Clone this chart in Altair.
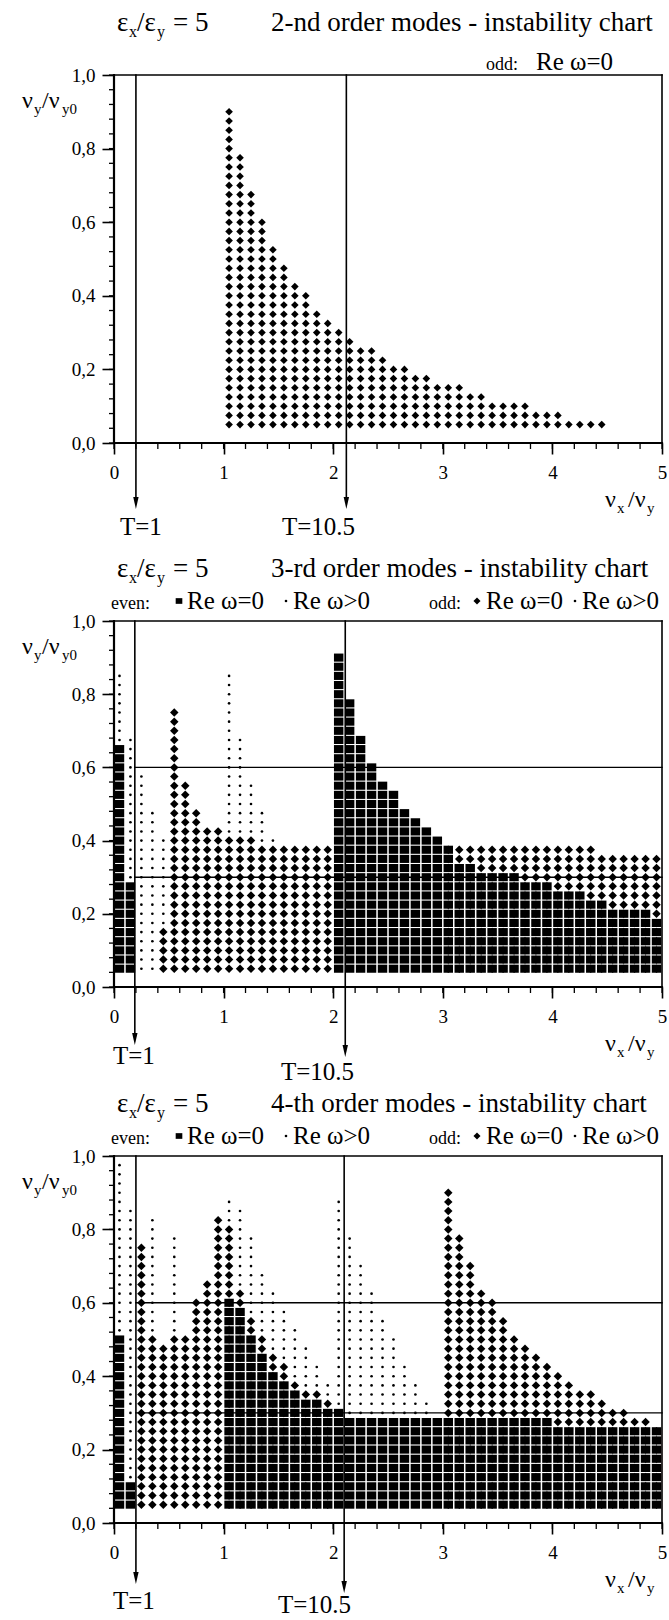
import altair as alt
import pandas as pd

FONT = "Liberation Serif"
INK = "#000000"

# ---------------- values ----------------
DY = 0.025          # step of the computed points along nu_y/nu_y0
LOW = 0.05          # lowest computed nu_y/nu_y0

titles = ["2-nd order modes - instability chart",
          "3-rd order modes - instability chart",
          "4-th order modes - instability chart"]
tick_x = [0, 1, 2, 3, 4, 5]
tick_y = [0.0, 0.2, 0.4, 0.6, 0.8, 1.0]
t_names = ["T=1", "T=10.5"]
t_pos = [[0.20, 2.12], [0.19, 2.11], [0.20, 2.10]]
h_lines = [[], [0.6, 0.3], [0.6, 0.3]]

# panel 1 : odd, Re w = 0 (diamonds) - column x and top of column
p1_dia_x = [1.05, 1.15, 1.25, 1.35, 1.45, 1.55, 1.65, 1.75, 1.85, 1.95, 2.05, 2.15,
            2.25, 2.35, 2.45, 2.55, 2.65, 2.75, 2.85, 2.95, 3.05, 3.15, 3.25, 3.35,
            3.45, 3.55, 3.65, 3.75, 3.85, 3.95, 4.05, 4.15, 4.25, 4.35, 4.45]
p1_dia_top = [0.9, 0.775, 0.675, 0.6, 0.525, 0.475, 0.425, 0.4, 0.35, 0.325, 0.3, 0.275,
              0.25, 0.25, 0.225, 0.2, 0.2, 0.175, 0.175, 0.15, 0.15, 0.15, 0.125, 0.125,
              0.1, 0.1, 0.1, 0.1, 0.075, 0.075, 0.075, 0.05, 0.05, 0.05, 0.05]

# panel 2 : even Re w = 0 (squares)
p2_sq_x = [0.05, 0.15, 2.05, 2.15, 2.25, 2.35, 2.45, 2.55, 2.65, 2.75, 2.85, 2.95,
           3.05, 3.15, 3.25, 3.35, 3.45, 3.55, 3.65, 3.75, 3.85, 3.95, 4.05, 4.15,
           4.25, 4.35, 4.45, 4.55, 4.65, 4.75, 4.85, 4.95]
p2_sq_top = [0.65, 0.275, 0.9, 0.775, 0.675, 0.6, 0.55, 0.525, 0.475, 0.45, 0.425, 0.4,
             0.375, 0.325, 0.325, 0.3, 0.3, 0.3, 0.3, 0.275, 0.275, 0.275, 0.25, 0.25,
             0.25, 0.225, 0.225, 0.2, 0.2, 0.2, 0.2, 0.175]
# panel 2 : odd Re w = 0 (diamonds)
p2_dia_x = [0.45, 0.55, 0.65, 0.75, 0.85, 0.95, 1.05, 1.15, 1.25, 1.35, 1.45, 1.55,
            1.65, 1.75, 1.85, 1.95, 3.05, 3.15, 3.25, 3.35, 3.45, 3.55, 3.65, 3.75,
            3.85, 3.95, 4.05, 4.15, 4.25, 4.35, 4.45, 4.55, 4.65, 4.75, 4.85, 4.95]
p2_dia_top = [0.15, 0.75, 0.55, 0.475, 0.425, 0.425, 0.4, 0.4, 0.4, 0.375, 0.375, 0.375,
              0.375, 0.375, 0.375, 0.375, 0.375, 0.375, 0.375, 0.375, 0.375, 0.375, 0.375, 0.375,
              0.375, 0.375, 0.375, 0.375, 0.375, 0.375, 0.35, 0.35, 0.35, 0.35, 0.35, 0.35]
# panel 2 : Re w > 0 (small dots) - column x, lowest and highest value
p2_dot_x = [0.05, 0.15, 0.25, 0.35, 0.45, 1.05, 1.15, 1.25, 1.35, 1.45]
p2_dot_lo = [0.675, 0.3, 0.05, 0.05, 0.175, 0.425, 0.425, 0.425, 0.4, 0.4]
p2_dot_hi = [0.85, 0.675, 0.575, 0.475, 0.4, 0.85, 0.675, 0.55, 0.475, 0.4]

# panel 3 : even Re w = 0 (squares)
p3_sq_x = [0.05, 0.15, 1.05, 1.15, 1.25, 1.35, 1.45, 1.55, 1.65, 1.75, 1.85, 1.95,
           2.05, 2.15, 2.25, 2.35, 2.45, 2.55, 2.65, 2.75, 2.85, 2.95, 3.05, 3.15,
           3.25, 3.35, 3.45, 3.55, 3.65, 3.75, 3.85, 3.95, 4.05, 4.15, 4.25, 4.35,
           4.45, 4.55, 4.65, 4.75, 4.85, 4.95]
p3_sq_top = [0.5, 0.1, 0.6, 0.575, 0.5, 0.45, 0.4, 0.375, 0.35, 0.325, 0.325, 0.3,
             0.3, 0.275, 0.275, 0.275, 0.275, 0.275, 0.275, 0.275, 0.275, 0.275, 0.275, 0.275,
             0.275, 0.275, 0.275, 0.275, 0.275, 0.275, 0.275, 0.275, 0.25, 0.25, 0.25, 0.25,
             0.25, 0.25, 0.25, 0.25, 0.25, 0.25]
# panel 3 : odd Re w = 0 (diamonds)
p3_dia_x = [0.25, 0.35, 0.45, 0.55, 0.65, 0.75, 0.85, 0.95, 1.05, 1.15, 1.25, 1.35,
            1.45, 1.55, 1.65, 1.75, 1.85, 1.95, 3.05, 3.15, 3.25, 3.35, 3.45, 3.55,
            3.65, 3.75, 3.85, 3.95, 4.05, 4.15, 4.25, 4.35, 4.45, 4.55, 4.65, 4.75,
            4.85, 4.95]
p3_dia_top = [0.75, 0.5, 0.475, 0.5, 0.5, 0.6, 0.65, 0.825, 0.8, 0.625, 0.55, 0.5,
              0.45, 0.425, 0.375, 0.35, 0.35, 0.325, 0.9, 0.775, 0.7, 0.625, 0.6, 0.55,
              0.5, 0.475, 0.45, 0.425, 0.4, 0.375, 0.35, 0.35, 0.325, 0.3, 0.3, 0.275,
              0.275, 0.25]
# panel 3 : Re w > 0 (small dots)
p3_dot_x = [0.05, 0.15, 0.35, 0.55, 1.05, 1.15, 1.25, 1.35, 1.45, 1.55, 1.65, 1.75,
            1.85, 1.95, 2.05, 2.15, 2.25, 2.35, 2.45, 2.55, 2.65, 2.75, 2.85]
p3_dot_lo = [0.525, 0.125, 0.525, 0.525, 0.825, 0.65, 0.575, 0.525, 0.475, 0.45, 0.4, 0.375,
             0.375, 0.35, 0.325, 0.3, 0.3, 0.3, 0.3, 0.3, 0.3, 0.3, 0.3]
p3_dot_hi = [0.975, 0.85, 0.825, 0.775, 0.875, 0.85, 0.775, 0.675, 0.625, 0.575, 0.525, 0.475,
             0.425, 0.375, 0.875, 0.775, 0.7, 0.625, 0.55, 0.5, 0.425, 0.375, 0.325]

# ---------------- layout (pixels of the page) ----------------
X0, XW = 113, 548
XU = XW / 5.0
SPACING = 100
P_BOTTOM = [442, 986, 1522]
P_PPU = [368, 366, 367]
P_H = [442, 444, 436]
ARROW_TIP = [[508, 508], [1044, 1056], [1583, 1592]]
T_LABEL = [[(119, 534), (281, 534)], [(112, 1063), (280, 1079)], [(112, 1608), (277, 1612)]]
LEGEND_GAP = [5, 12, 12]

SQUARE = "M -1.05 -0.9 L 1.05 -0.9 L 1.05 0.9 L -1.05 0.9 Z"
ARROW = "M -0.45 -1 L 0.45 -1 L 0 1 Z"


def columns(xs, lows, highs):
    rows = []
    for x, lo, hi in zip(xs, lows, highs):
        n = int(round((hi - lo) / DY))
        for k in range(n + 1):
            rows.append({"x": x, "y": round(lo + k * DY, 4)})
    return pd.DataFrame(rows, columns=["x", "y"])


def build(i, sq, dia, dots, dia_size, legend_kind):
    B, ppu, H = P_BOTTOM[i], P_PPU[i], P_H[i]
    top = B - ppu
    ymax = H / ppu
    xs = alt.Scale(domain=[0, 5], nice=False, zero=False)
    ys = alt.Scale(domain=[0, ymax], nice=False, zero=False)

    xaxis = alt.Axis(values=tick_x, format="d", domain=False, grid=False, tickSize=11,
                     tickWidth=1.6, tickColor=INK, labelFont=FONT, labelFontSize=19,
                     labelColor=INK, labelPadding=9, labelFlush=False, labelOverlap=False,
                     title=None)
    yaxis = alt.Axis(values=tick_y, labelExpr="replace(format(datum.value, '.1f'), '.', ',')",
                     domain=False, grid=False, tickSize=12, tickWidth=1.6, tickColor=INK,
                     labelFont=FONT, labelFontSize=19, labelColor=INK, labelPadding=7,
                     labelFlush=False, labelOverlap=False, title=None)

    def tx(px):
        return (px - X0) / XU

    def ty(py):
        return (B - py) / ppu

    def XE():
        return alt.X("x:Q", scale=xs, axis=xaxis, title=None)

    def YE():
        return alt.Y("y:Q", scale=ys, axis=yaxis, title=None)

    seg = [(0, 0, 0, 1, 2.2), (0, 5, 0, 0, 2.2), (0, 5, 1, 1, 1.6), (5, 5, 0, 1, 1.6)]
    for k, t in enumerate(t_pos[i]):
        seg.append((t, t, 1, ty(ARROW_TIP[i][k] - 8), 1.6))
    for h in h_lines[i]:
        seg.append((t_pos[i][0], 5, h, h, 1.4))
    segdf = pd.DataFrame(seg, columns=["x", "x2", "y", "y2", "w"])

    layers = []
    layers.append(alt.Chart(segdf).mark_rule(color=INK, strokeCap="square").encode(
        x=XE(), x2="x2:Q", y=YE(), y2="y2:Q",
        strokeWidth=alt.StrokeWidth("w:Q", scale=None, legend=None)))

    minor_x = [k / 5 for k in range(26)]
    minor_y = [round(k * 0.04, 2) for k in range(26)]
    layers.append(alt.Chart(pd.DataFrame({"x": minor_x})).mark_rule(color=INK, strokeWidth=1.3).encode(
        x=XE(), y=alt.value(H), y2=alt.value(H + 6)))
    layers.append(alt.Chart(pd.DataFrame({"y": minor_y})).mark_rule(color=INK, strokeWidth=1.3).encode(
        y=YE(), x=alt.value(0), x2=alt.value(-5)))

    arr = pd.DataFrame({"x": t_pos[i], "y": [ty(ARROW_TIP[i][0] - 6), ty(ARROW_TIP[i][1] - 6)]})
    layers.append(alt.Chart(arr).mark_point(shape=ARROW, filled=True, size=144, color=INK,
                                            opacity=1, strokeWidth=0).encode(x=XE(), y=YE()))

    if dia is not None:
        layers.append(alt.Chart(dia).mark_point(shape="diamond", filled=True, size=dia_size,
                                                color=INK, opacity=1, strokeWidth=0).encode(x=XE(), y=YE()))
    if sq is not None:
        layers.append(alt.Chart(sq).mark_point(shape=SQUARE, filled=True, size=81, color=INK,
                                               opacity=1, strokeWidth=0).encode(x=XE(), y=YE()))
    if dots is not None:
        layers.append(alt.Chart(dots).mark_circle(size=7, color=INK, opacity=1).encode(x=XE(), y=YE()))

    tb, lb, yb, xb = top - 44, top - LEGEND_GAP[i], top + 33, B + 64
    texts = [("ε", 116, tb, 27), ("x", 128, tb + 6, 16), ("/ε", 136, tb, 27),
             ("y", 156, tb + 6, 16), ("= 5", 172, tb, 27), (titles[i], 270, tb, 27),
             ("ν", 21, yb, 24), ("y", 33, yb + 6, 15), ("/ν", 41, yb, 24), ("y0", 61, yb + 6, 15),
             ("ν", 604, xb, 24), ("x", 616, xb + 6, 15), ("/ν", 627, xb, 24), ("y", 646, xb + 6, 15)]
    for k, name in enumerate(t_names):
        texts.append((name, T_LABEL[i][k][0], T_LABEL[i][k][1], 25))
    syms = []
    if legend_kind == "odd":
        texts += [("odd:", 485, lb, 18), ("Re ω=0", 535, lb, 25)]
    else:
        texts += [("even:", 110, lb, 18), ("Re ω=0", 186, lb, 25), ("Re ω>0", 292, lb, 25),
                  ("odd:", 428, lb, 18), ("Re ω=0", 485, lb, 25), ("Re ω>0", 581, lb, 25)]
        syms = [("sq", 178, lb - 8), ("dot", 285, lb - 8), ("dia", 476, lb - 8), ("dot", 574, lb - 8)]
    tdf = pd.DataFrame([{"x": tx(a), "y": ty(b), "t": t, "fs": f} for (t, a, b, f) in texts])
    layers.append(alt.Chart(tdf).mark_text(font=FONT, align="left", baseline="alphabetic",
                                           color=INK).encode(
        x=XE(), y=YE(), text="t:N", size=alt.Size("fs:Q", scale=None, legend=None)))

    if syms:
        sdf = pd.DataFrame([{"x": tx(a), "y": ty(b), "k": k} for (k, a, b) in syms])
        layers.append(alt.Chart(sdf).transform_filter(alt.datum.k == "sq").mark_point(
            shape=SQUARE, filled=True, size=40, color=INK, opacity=1, strokeWidth=0).encode(x=XE(), y=YE()))
        layers.append(alt.Chart(sdf).transform_filter(alt.datum.k == "dia").mark_point(
            shape="diamond", filled=True, size=50, color=INK, opacity=1, strokeWidth=0).encode(x=XE(), y=YE()))
        layers.append(alt.Chart(sdf).transform_filter(alt.datum.k == "dot").mark_circle(
            size=7, color=INK, opacity=1).encode(x=XE(), y=YE()))

    if i == 0:
        layers.append(alt.Chart(pd.DataFrame({"a": [0]})).mark_rule(color="white", strokeWidth=1).encode(
            x=alt.value(-X0), y=alt.value(0), y2=alt.value(1)))

    return alt.layer(*layers).properties(width=XW, height=H)


p1 = build(0, None, columns(p1_dia_x, [LOW] * len(p1_dia_x), p1_dia_top), None, 58, "odd")
p2 = build(1, columns(p2_sq_x, [LOW] * len(p2_sq_x), p2_sq_top),
           columns(p2_dia_x, [LOW] * len(p2_dia_x), p2_dia_top),
           columns(p2_dot_x, p2_dot_lo, p2_dot_hi), 72, "both")
p3 = build(2, columns(p3_sq_x, [LOW] * len(p3_sq_x), p3_sq_top),
           columns(p3_dia_x, [LOW] * len(p3_dia_x), p3_dia_top),
           columns(p3_dot_x, p3_dot_lo, p3_dot_hi), 72, "both")

chart = alt.vconcat(p1, p2, p3, spacing=SPACING, bounds="flush").properties(
    padding=0).configure_view(strokeWidth=0).configure_axis(
    labelFont=FONT, labelFontSize=19, labelColor=INK)

chart.save("out.html", embed_options={"renderer": "svg", "actions": False})
